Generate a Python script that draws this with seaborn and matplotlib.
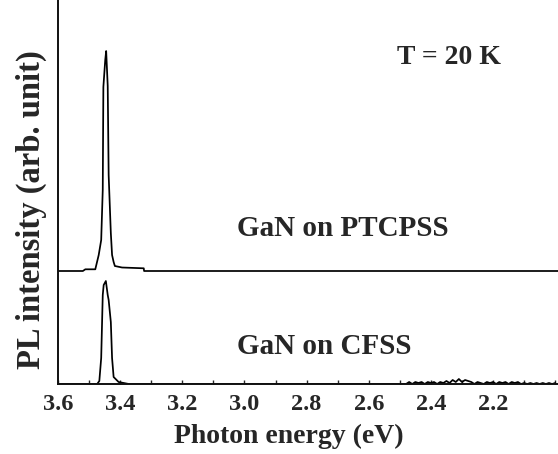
import numpy as np
import pandas as pd
import matplotlib
matplotlib.use("Agg")
import matplotlib.pyplot as plt
from matplotlib.ticker import MultipleLocator
import seaborn as sns

# PL spectra (photon energy in eV, intensity in arb. units)
ptcpss_energy = [3.60, 3.52, 3.512, 3.480, 3.469, 3.461, 3.456, 3.454, 3.448, 3.445,
                 3.440, 3.437, 3.430, 3.426, 3.421, 3.417, 3.394, 3.324, 3.323, 1.99]
ptcpss_int = [0.0, 0.0, 0.017, 0.017, 0.16, 0.31, 0.81, 1.84, 2.11, 2.20,
              1.85, 0.96, 0.38, 0.16, 0.09, 0.05, 0.035, 0.027, 0.0, 0.0]
ptcpss_offset = 1.13

cfss_energy = [3.60, 3.474, 3.467, 3.461, 3.456, 3.453, 3.446, 3.440, 3.437, 3.430,
               3.426, 3.421, 3.405, 3.372, 2.48,
               2.47, 2.46, 2.45, 2.44, 2.43, 2.42, 2.41, 2.40, 2.39, 2.38,
               2.37, 2.36, 2.35, 2.34, 2.33, 2.32, 2.31, 2.30, 2.29, 2.28,
               2.27, 2.26, 2.25, 2.24, 2.23, 2.22, 2.21, 2.20, 2.19, 2.18,
               2.17, 2.16, 2.15, 2.14, 2.13, 2.12, 2.11, 2.10, 2.09, 2.08,
               2.07, 2.06, 2.05, 2.04, 2.03, 2.02, 2.01, 2.00]
cfss_int = [0.0, 0.0, 0.03, 0.26, 0.89, 0.99, 1.03, 0.89, 0.84, 0.62,
            0.26, 0.07, 0.02, 0.0, 0.0,
            0.02, 0.0, 0.02, 0.01, 0.02, 0.0, 0.02, 0.01, 0.02, 0.0,
            0.02, 0.01, 0.03, 0.01, 0.04, 0.02, 0.05, 0.02, 0.04, 0.03,
            0.02, 0.0, 0.02, 0.01, 0.0, 0.02, 0.01, 0.02, 0.0, 0.02,
            0.01, 0.02, 0.0, 0.02, 0.01, 0.02, 0.0, 0.01, 0.0, 0.01,
            0.0, 0.01, 0.0, 0.01, 0.0, 0.01, 0.0, 0.01]

xticks = [3.6, 3.4, 3.2, 3.0, 2.8, 2.6, 2.4, 2.2]

sns.set_style("ticks")
plt.rcParams['font.family'] = ['Liberation Serif', 'DejaVu Serif']
plt.rcParams['font.weight'] = 'bold'

df = pd.concat([
    pd.DataFrame({'energy': ptcpss_energy,
                  'intensity': np.array(ptcpss_int) + ptcpss_offset,
                  'sample': 'GaN on PTCPSS'}),
    pd.DataFrame({'energy': cfss_energy, 'intensity': cfss_int,
                  'sample': 'GaN on CFSS'}),
])

fig = plt.figure(figsize=(5.58, 4.54), dpi=100)
ax = fig.add_axes([58 / 558, 70 / 454, 500 / 558, 384 / 454])

sns.lineplot(data=df, x='energy', y='intensity', units='sample', estimator=None,
             sort=False, color='black', lw=1.25, ax=ax, legend=False)

ax.set_xlim(3.6, 1.991)
ax.set_ylim(0, 3.84)
ax.set_xticks(xticks)
ax.set_xticklabels([f"{t:.1f}" for t in xticks])
ax.xaxis.set_minor_locator(MultipleLocator(0.1))
ax.set_yticks([])
ax.tick_params(axis='x', which='both', direction='in', length=3, width=1,
               labelsize=17.5, pad=7)
for s in ['top', 'right']:
    ax.spines[s].set_visible(False)
for s in ['left', 'bottom']:
    ax.spines[s].set_linewidth(1.4)
    ax.spines[s].set_color('#111111')

ax.set_xlabel('Photon energy (eV)', fontsize=20, fontweight='bold', va='center')
ax.xaxis.set_label_coords((289 - 58) / 500, (384 - 436) / 384)
ax.set_ylabel('PL intensity (arb. unit)', fontsize=23.5, fontweight='bold', va='center')
ax.yaxis.set_label_coords((31 - 58) / 500, (384 - 210) / 384)

ax.text(3.024, 1.56, 'GaN on PTCPSS', fontsize=21, fontweight='bold', va='center', ha='left')
ax.text(3.024, 0.37, 'GaN on CFSS', fontsize=21, fontweight='bold', va='center', ha='left')
ax.text(2.509, 3.26, 'T = 20 K', fontsize=20, fontweight='bold', va='center', ha='left')

fig.savefig('out.png', dpi=100)
